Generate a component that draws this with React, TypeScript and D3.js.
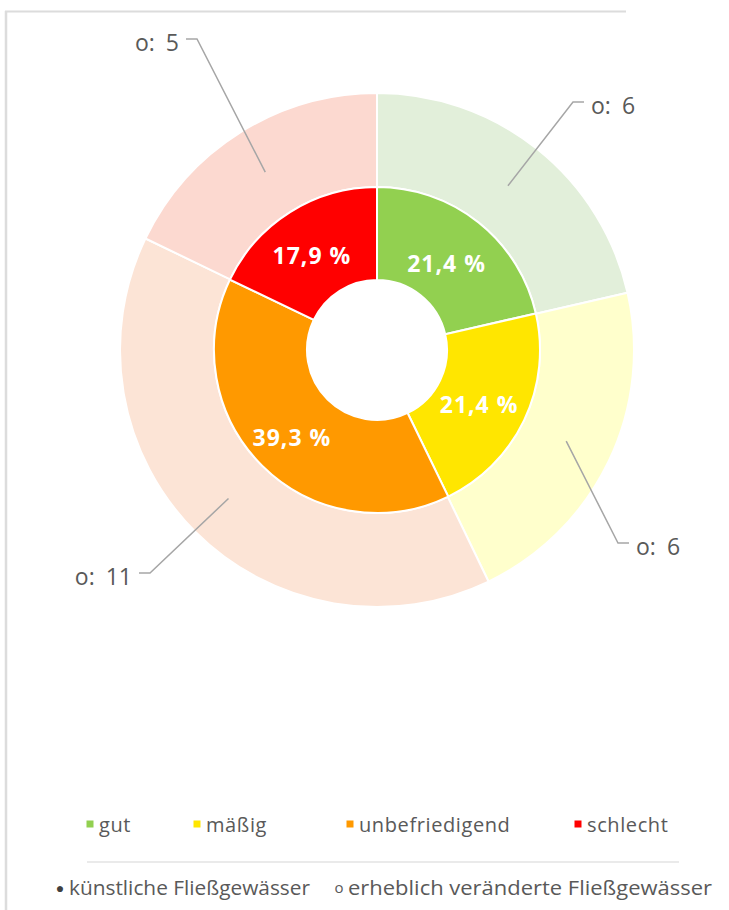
import React from "react";
import * as d3 from "d3";

const categories = ["gut", "mäßig", "unbefriedigend", "schlecht"];
const innerPercent = [21.4, 21.4, 39.3, 17.9];
const outerCounts = [6, 6, 11, 5];
const innerColors = ["#92d050", "#ffe600", "#ff9900", "#ff0000"];
const outerColors = ["#e2efda", "#ffffcc", "#fce4d6", "#fcd9d0"];
const outerPrefix = "o:";
const typeLegend = [
  { sym: "●", label: "künstliche Fließgewässer" },
  { sym: "o", label: "erheblich veränderte Fließgewässer" },
];

// layout (label elbow offsets relative to centre, side of label)
const elbows = [
  { dx: 196, dy: -248, side: 1 },
  { dx: 241, dy: 193, side: 1 },
  { dx: -227, dy: 223, side: -1 },
  { dx: -180, dy: -311, side: -1 },
];

const W = 729;
const H = 910;
const cx = 377;
const cy = 350;
const rHole = 70;
const rMid = 163;
const rOut = 257;

const fmt = (v: number) => v.toFixed(1).replace(".", ",") + " %";

export default function App() {
  const pie = d3.pie<number>().sort(null).value((d) => d);
  const innerArcs = pie(innerPercent);
  const outerArcs = pie(outerCounts);
  const innerArc = d3.arc<d3.PieArcDatum<number>>().innerRadius(rHole).outerRadius(rMid);
  const outerArc = d3.arc<d3.PieArcDatum<number>>().innerRadius(rMid).outerRadius(rOut);

  const legendX = [90, 197, 350, 578];

  return (
    <svg
      width={W}
      height={H}
      style={{ position: "absolute", left: 0, top: 0, background: "#fff" }}
      fontFamily="'Open Sans', 'Noto Sans', sans-serif"
    >
      <line x1={5} x2={626} y1={11.5} y2={11.5} stroke="#dcdcdc" strokeWidth={2} />
      <line x1={6} x2={6} y1={11} y2={H} stroke="#dcdcdc" strokeWidth={2.5} />
      <g transform={`translate(${cx},${cy})`}>
        {outerArcs.map((a, i) => (
          <path key={"o" + i} d={outerArc(a) || ""} fill={outerColors[i]} stroke="#fff" strokeWidth={2} />
        ))}
        {innerArcs.map((a, i) => (
          <path key={"i" + i} d={innerArc(a) || ""} fill={innerColors[i]} stroke="#fff" strokeWidth={2} />
        ))}
        {innerArcs.map((a, i) => {
          const [x, y] = innerArc.centroid(a);
          return (
            <text
              key={"t" + i}
              x={x - 3}
              y={y + 4}
              textAnchor="middle"
              dominantBaseline="central"
              fill="#fff"
              fontWeight="bold"
              fontSize={23}
              letterSpacing={1}
            >
              {fmt(a.data)}
            </text>
          );
        })}
        {outerArcs.map((a, i) => {
          const [x0, y0] = outerArc.centroid(a);
          const e = elbows[i];
          const hx = e.dx + e.side * 11;
          return (
            <g key={"l" + i}>
              <polyline
                points={`${x0},${y0} ${e.dx},${e.dy} ${hx},${e.dy}`}
                fill="none"
                stroke="#a6a6a6"
                strokeWidth={1.5}
              />
              <text
                x={hx + e.side * 7}
                y={e.dy + 3}
                textAnchor={e.side > 0 ? "start" : "end"}
                dominantBaseline="central"
                fill="#595959"
                fontSize={23}
              >
                {outerPrefix}
                <tspan dx={11}>{a.data}</tspan>
              </text>
            </g>
          );
        })}
      </g>
      {categories.map((c, i) => (
        <g key={"lg" + i}>
          <rect x={legendX[i] - 3.5} y={820.5} width={7} height={7} fill={innerColors[i]} />
          <text
            x={legendX[i] + 9}
            y={824}
            dominantBaseline="central"
            fill="#595959"
            fontSize={20}
            letterSpacing={0.6}
          >
            {c}
          </text>
        </g>
      ))}
      <line x1={87} x2={679} y1={862} y2={862} stroke="#e3e3e3" strokeWidth={1.5} />
      {typeLegend.map((t, i) => {
        const sx = i === 0 ? 60 : 339;
        const tw = i === 0 ? 241 : 364;
        return (
          <g key={"tl" + i}>
            <text
              x={sx}
              y={887}
              textAnchor="middle"
              dominantBaseline="central"
              fill={i === 0 ? "#404040" : "#595959"}
              fontSize={i === 0 ? 14 : 15}
            >
              {t.sym}
            </text>
            <text
              x={sx + 9}
              y={887}
              dominantBaseline="central"
              fill="#595959"
              fontSize={20}
              textLength={tw}
              lengthAdjust="spacingAndGlyphs"
            >
              {t.label}
            </text>
          </g>
        );
      })}
    </svg>
  );
}
